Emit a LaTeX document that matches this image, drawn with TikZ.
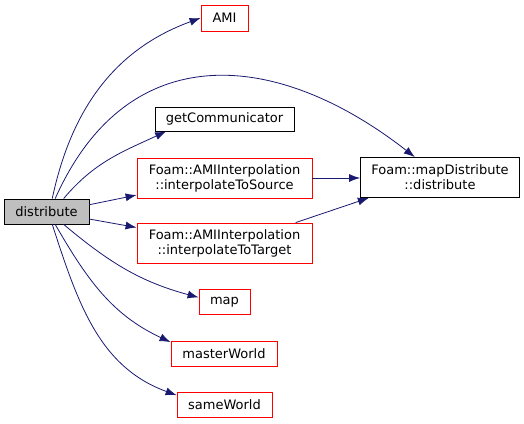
\documentclass[tikz,border=0pt]{standalone}
\usepackage{fontspec}
\setmainfont{DejaVu Sans}
\usepackage{xcolor}
\usepackage{tikz}
\usetikzlibrary{arrows.meta}

\definecolor{edgeblue}{HTML}{191970}
\definecolor{boxred}{HTML}{FF0000}

\begin{document}
\begin{tikzpicture}[x=1pt,y=1pt,font=\fontsize{13}{15}\selectfont,
    fn/.style={draw=black,line width=.8pt,inner sep=0pt,align=center,minimum height=25pt},
    fnred/.style={fn,draw=boxred},
    call/.style={draw=edgeblue,line width=.8pt,-{Latex[length=11pt,width=8pt]}}]
      \useasboundingbox (0,0) rectangle (524,423);
      \node[fn,fill=black!25,minimum width=85pt] (distribute) at (46.5,211.5) {distribute};
      \node[fnred,minimum width=47pt,minimum height=26pt] (ami) at (224.5,405) {AMI};
      \node[fn,minimum width=139pt,minimum height=24pt] (getcomm) at (224.5,304) {getCommunicator};
      \node[fnred,minimum width=175pt,minimum height=40pt] (tosource) at (224.5,245) {Foam::AMIInterpolation\\::interpolateToSource};
      \node[fnred,minimum width=175pt,minimum height=40pt] (totarget) at (224.5,180) {Foam::AMIInterpolation\\::interpolateToTarget};
      \node[fn,minimum width=159pt,minimum height=40pt] (mapdist) at (440,245.5) {Foam::mapDistribute\\::distribute};
      \node[fnred,minimum width=51pt] (map) at (224.5,121) {map};
      \node[fnred,minimum width=106pt] (master) at (224,69.5) {masterWorld};
      \node[fnred,minimum width=95pt] (same) at (224.5,18.5) {sameWorld};
      % calls from distribute
      \draw[call] (distribute.66) to[out=78,in=200] (ami.west);
      \draw[call] (distribute.56) to[out=66,in=142,looseness=1.25] (mapdist.141);
      \draw[call] (distribute.37) to[out=50,in=205] (getcomm.192);
      \draw[call] (distribute.9) -- (tosource.191);
      \draw[call] (distribute.-10) -- (totarget.170);
      \draw[call] (distribute.-37) to[out=-40,in=165] (map.170);
      \draw[call] (distribute.-56) to[out=-60,in=155] (master.168);
      \draw[call] (distribute.-66) to[out=-72,in=160] (same.169);
      % calls into mapDistribute
      \draw[call] (tosource.east) -- (mapdist.west |- tosource.east);
      \draw[call] (totarget.16) -- (mapdist.196);
\end{tikzpicture}
\end{document}
